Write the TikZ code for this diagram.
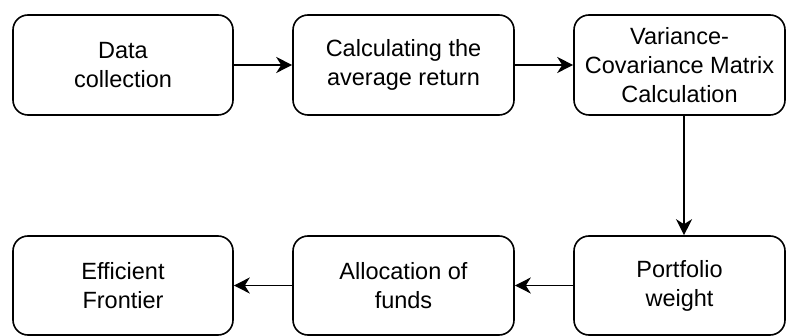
\documentclass[tikz,border=0pt]{standalone}
\usepackage{fontspec}
\setmainfont{Liberation Sans}
\usetikzlibrary{arrows.meta}
\begin{document}
\begin{tikzpicture}[x=1pt,y=-1pt,
  box/.style={draw, line width=1.6pt, rounded corners=15pt, align=center,
    font=\fontsize{23.5}{29}\selectfont, inner sep=0pt},
  conn/.style={line width=1.6pt, -{Stealth[length=16pt,width=16pt,inset=5pt]}}]
\useasboundingbox (0,0) rectangle (786,336);
\node[box, minimum width=220pt, minimum height=100pt] (a) at (123,65) {Data\\collection};
\node[box, minimum width=221pt, minimum height=100pt] (b) at (403.5,65) {Calculating the\\average return};
\node[box, minimum width=211pt, minimum height=100pt] (c) at (679.5,65) {Variance-\\Covariance Matrix\\Calculation};
\node[box, minimum width=211pt, minimum height=99pt] (d) at (679.5,285.5) {Portfolio\\weight};
\node[box, minimum width=221pt, minimum height=99pt] (e) at (403.5,285.5) {Allocation of\\funds};
\node[box, minimum width=220pt, minimum height=99pt] (f) at (123,285.5) {Efficient\\Frontier};
\draw[conn] (a) -- (b);
\draw[conn] (b) -- (c);
\draw[conn] ([xshift=4.5pt]c.south) -- ([xshift=4.5pt]d.north);
\draw[conn] (d) -- (e);
\draw[conn] (e) -- (f);
\end{tikzpicture}
\end{document}
